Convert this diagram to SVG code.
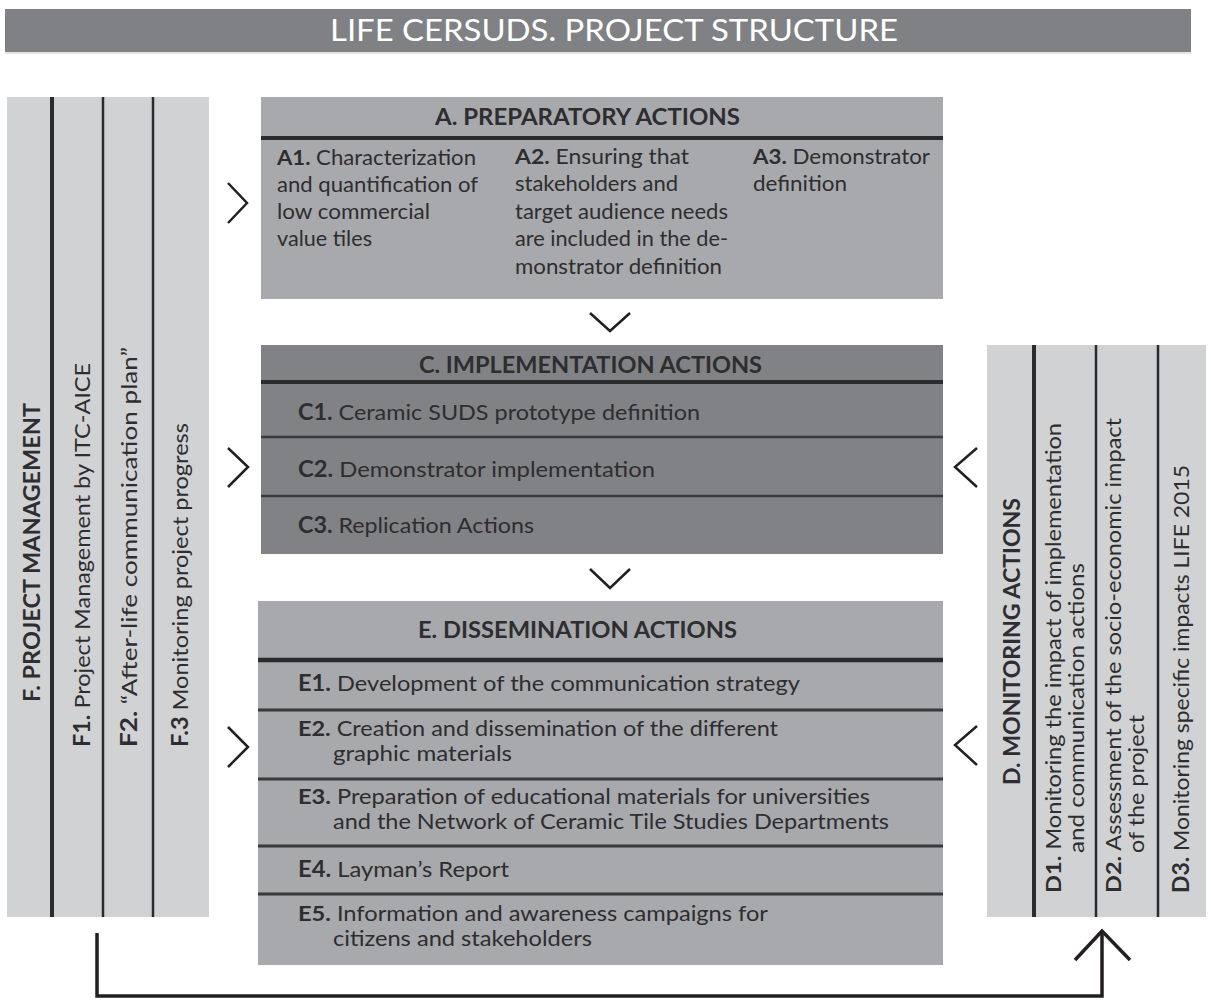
<svg xmlns="http://www.w3.org/2000/svg" width="1211" height="1001" viewBox="0 0 1211 1001">
<defs>
<style>
.t{font-family:Lato,"Open Sans","Liberation Sans",sans-serif;font-size:22px;fill:#2e2d2f}
.a{font-size:21px}
.w{font-size:21px}
.b{font-weight:700}
.h{font-family:Lato,"Open Sans","Liberation Sans",sans-serif;font-weight:700;font-size:22px;fill:#2e2d2f}
.title{font-family:Lato,"Open Sans","Liberation Sans",sans-serif;font-size:31px;fill:#ffffff}
.light{fill:#d1d2d4}
.mid{fill:#a7a9ac}
.dark{fill:#808285}
.thick{stroke:#2b2a2c;stroke-width:4}
.sep{stroke:#3a393b;stroke-width:2.5}
.col{stroke:#2b2a2c;stroke-width:2.5}
.chev{fill:none;stroke:#231f20;stroke-width:2.5}
.conn{fill:none;stroke:#231f20;stroke-width:3.5}
</style>
</defs>
<rect width="1211" height="1001" fill="#ffffff"/>

<g id="title">
<rect x="5" y="9" width="1186" height="43" fill="#808184"/>
<line x1="5" y1="53" x2="1191" y2="53" stroke="#dcdcdc" stroke-width="1.5"/>
<text class="title" x="330" y="41" textLength="568" lengthAdjust="spacingAndGlyphs">LIFE CERSUDS. PROJECT STRUCTURE</text>
</g>

<g id="node-F">
<rect class="light" x="7" y="97" width="202" height="820"/>
<line class="thick" x1="52" y1="97" x2="52" y2="917"/>
<line class="col" x1="103" y1="97" x2="103" y2="917"/>
<line class="col" x1="153" y1="97" x2="153" y2="917"/>
<text class="t b" transform="translate(40,702) rotate(-90)" textLength="299" lengthAdjust="spacingAndGlyphs">F. PROJECT MANAGEMENT</text>
<text class="t" transform="translate(90,747) rotate(-90)" textLength="384" lengthAdjust="spacingAndGlyphs"><tspan class="b">F1.</tspan> Project Management by ITC-AICE</text>
<text class="t" transform="translate(137,747) rotate(-90)" textLength="400" lengthAdjust="spacingAndGlyphs"><tspan class="b">F2.</tspan> “After-life communication plan”</text>
<text class="t" transform="translate(188,747) rotate(-90)" textLength="324" lengthAdjust="spacingAndGlyphs"><tspan class="b">F.3</tspan> Monitoring project progress</text>
</g>

<g id="node-A">
<rect class="mid" x="261" y="97" width="682" height="202"/>
<line class="thick" x1="261" y1="138" x2="943" y2="138"/>
<text class="h" x="435" y="125" textLength="305" lengthAdjust="spacingAndGlyphs">A. PREPARATORY ACTIONS</text>
<text class="t a" x="277" y="165" textLength="199" lengthAdjust="spacingAndGlyphs"><tspan class="b">A1.</tspan> Characterization</text>
<text class="t a" x="277" y="192" textLength="201" lengthAdjust="spacingAndGlyphs">and quantification of</text>
<text class="t a" x="277" y="219" textLength="153" lengthAdjust="spacingAndGlyphs">low commercial</text>
<text class="t a" x="277" y="246" textLength="95" lengthAdjust="spacingAndGlyphs">value tiles</text>
<text class="t a" x="515" y="164" textLength="174" lengthAdjust="spacingAndGlyphs"><tspan class="b">A2.</tspan> Ensuring that</text>
<text class="t a" x="515" y="191" textLength="163" lengthAdjust="spacingAndGlyphs">stakeholders and</text>
<text class="t a" x="515" y="219" textLength="213" lengthAdjust="spacingAndGlyphs">target audience needs</text>
<text class="t a" x="515" y="246" textLength="213" lengthAdjust="spacingAndGlyphs">are included in the de-</text>
<text class="t a" x="515" y="274" textLength="207" lengthAdjust="spacingAndGlyphs">monstrator definition</text>
<text class="t a" x="753" y="164" textLength="177" lengthAdjust="spacingAndGlyphs"><tspan class="b">A3.</tspan> Demonstrator</text>
<text class="t a" x="753" y="191" textLength="94" lengthAdjust="spacingAndGlyphs">definition</text>
</g>

<g id="node-C">
<rect class="dark" x="261" y="345" width="682" height="209"/>
<line class="thick" x1="261" y1="382" x2="943" y2="382"/>
<line class="sep" x1="261" y1="437" x2="943" y2="437"/>
<line class="sep" x1="261" y1="496" x2="943" y2="496"/>
<text class="h" x="419" y="373" textLength="343" lengthAdjust="spacingAndGlyphs">C. IMPLEMENTATION ACTIONS</text>
<text class="t" x="298" y="420" textLength="402" lengthAdjust="spacingAndGlyphs"><tspan class="b">C1.</tspan> Ceramic SUDS prototype definition</text>
<text class="t" x="298" y="477" textLength="357" lengthAdjust="spacingAndGlyphs"><tspan class="b">C2.</tspan> Demonstrator implementation</text>
<text class="t" x="298" y="533" textLength="236" lengthAdjust="spacingAndGlyphs"><tspan class="b">C3.</tspan> Replication Actions</text>
</g>

<g id="node-E">
<rect class="mid" x="258" y="601" width="685" height="364"/>
<line class="thick" x1="258" y1="660" x2="943" y2="660" style="stroke-width:4.5"/>
<line class="sep" x1="258" y1="710" x2="943" y2="710" style="stroke-width:3"/>
<line class="sep" x1="258" y1="779" x2="943" y2="779" style="stroke-width:3"/>
<line class="sep" x1="258" y1="846" x2="943" y2="846" style="stroke-width:3"/>
<line class="sep" x1="258" y1="894" x2="943" y2="894" style="stroke-width:3"/>
<text class="h" x="418" y="638" textLength="319" lengthAdjust="spacingAndGlyphs">E. DISSEMINATION ACTIONS</text>
<text class="t" x="298" y="691" textLength="502" lengthAdjust="spacingAndGlyphs"><tspan class="b">E1.</tspan> Development of the communication strategy</text>
<text class="t w" x="298" y="736" textLength="480" lengthAdjust="spacingAndGlyphs"><tspan class="b">E2.</tspan> Creation and dissemination of the different</text>
<text class="t w" x="333" y="761" textLength="179" lengthAdjust="spacingAndGlyphs">graphic materials</text>
<text class="t w" x="298" y="804" textLength="572" lengthAdjust="spacingAndGlyphs"><tspan class="b">E3.</tspan> Preparation of educational materials for universities</text>
<text class="t w" x="333" y="829" textLength="556" lengthAdjust="spacingAndGlyphs">and the Network of Ceramic Tile Studies Departments</text>
<text class="t" x="298" y="877" textLength="211" lengthAdjust="spacingAndGlyphs"><tspan class="b">E4.</tspan> Layman’s Report</text>
<text class="t w" x="298" y="921" textLength="470" lengthAdjust="spacingAndGlyphs"><tspan class="b">E5.</tspan> Information and awareness campaigns for</text>
<text class="t w" x="333" y="946" textLength="259" lengthAdjust="spacingAndGlyphs">citizens and stakeholders</text>
</g>

<g id="node-D">
<rect class="light" x="987" y="345" width="219" height="572"/>
<line class="thick" x1="1034" y1="345" x2="1034" y2="917"/>
<line class="col" x1="1096" y1="345" x2="1096" y2="917"/>
<line class="col" x1="1158" y1="345" x2="1158" y2="917"/>
<text class="t b" transform="translate(1020,785) rotate(-90)" textLength="287" lengthAdjust="spacingAndGlyphs">D. MONITORING ACTIONS</text>
<text class="t w" transform="translate(1061,893) rotate(-90)" textLength="470" lengthAdjust="spacingAndGlyphs"><tspan class="b">D1.</tspan> Monitoring the impact of implementation</text>
<text class="t w" transform="translate(1084,853) rotate(-90)" textLength="290" lengthAdjust="spacingAndGlyphs">and communication actions</text>
<text class="t w" transform="translate(1121,893) rotate(-90)" textLength="475" lengthAdjust="spacingAndGlyphs"><tspan class="b">D2.</tspan> Assessment of the socio-economic impact</text>
<text class="t w" transform="translate(1144,853) rotate(-90)" textLength="138" lengthAdjust="spacingAndGlyphs">of the project</text>
<text class="t" transform="translate(1189,893) rotate(-90)" textLength="428" lengthAdjust="spacingAndGlyphs"><tspan class="b">D3.</tspan> Monitoring specific impacts LIFE 2015</text>
</g>

<g id="connectors">
<polyline class="chev" points="228,183 247,203 228,223"/>
<polyline class="chev" points="228,448 248,467 228,487"/>
<polyline class="chev" points="228,727 248,747 228,767"/>
<polyline class="chev" points="977,448 955,467 977,487"/>
<polyline class="chev" points="977,726 955,745 977,765"/>
<polyline class="chev" points="590,313 610,331 630,313"/>
<polyline class="chev" points="590,569 610,588 630,569"/>
<path class="conn" d="M97,933 V996 H1102 V931"/>
<polyline class="conn" points="1075,960 1102,931 1130,960"/>
</g>
</svg>
